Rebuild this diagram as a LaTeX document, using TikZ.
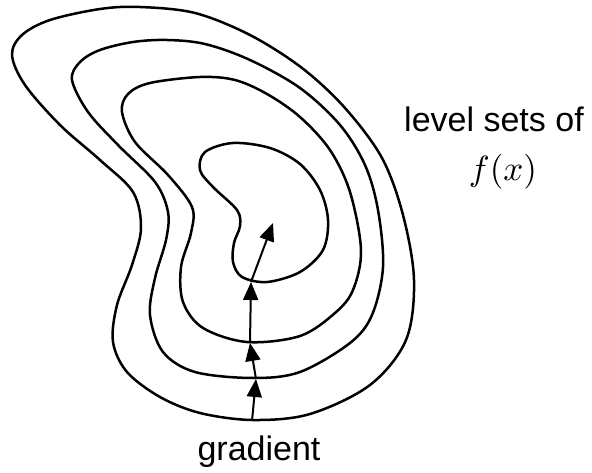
\documentclass[tikz,border=0pt]{standalone}
\usepackage{graphicx}
\usepackage{fontspec}
\newfontfamily\labelfont{Liberation Sans}
\usetikzlibrary{arrows.meta}
\tikzset{
  contour/.style={line width=2.5pt, line join=round},
  grad/.style={line width=2pt, -{Triangle[length=18pt,width=15pt]}},
  lbl/.style={font=\labelfont\fontsize{34}{40}\selectfont, inner sep=0pt},
}
\begin{document}
\begin{tikzpicture}[x=1pt,y=-1pt]
\useasboundingbox (0,0) rectangle (592,473);
% outer level set
\draw[contour] plot[smooth cycle, tension=0.55] coordinates {
 (140,7) (195,13) (250,35) (302,68) (345,108) (382,158) (403,215) (414,280)
 (406,340) (370,385) (310,414) (253,420) (200,413) (160,397) (127,372)
 (113,342) (117,305) (132,265) (141,228) (133,192) (100,160) (60,125)
 (25,85) (12,55) (22,35) (50,20) (100,9)};
% second
\draw[contour] plot[smooth cycle, tension=0.55] coordinates {
 (167,40) (205,44) (250,60) (300,88) (340,125) (365,165) (378,210) (383,267)
 (372,315) (350,343) (300,372) (253,378) (195,372) (163,352) (150,315)
 (155,278) (166,240) (168,212) (155,182) (118,145) (88,112) (72,80)
 (80,62) (100,50) (133,42)};
% third
\draw[contour] plot[smooth cycle, tension=0.55] coordinates {
 (200,77) (235,80) (267,94) (300,117) (330,150) (350,192) (361,250)
 (353,290) (335,313) (300,336) (247,342) (203,328) (183,302) (181,267)
 (191,233) (192,207) (168,175) (135,142) (122,112) (128,94) (150,83)};
% inner
\draw[contour] plot[smooth cycle, tension=0.55] coordinates {
 (233,143) (270,148) (300,164) (320,190) (328,220) (323,250) (300,272)
 (267,282) (242,277) (233,262) (234,243) (240,226) (237,210) (213,187)
 (200,170) (205,152)};
% gradient steps
\coordinate (g0) at (252,421);
\coordinate (g1) at (256,379);
\coordinate (g2) at (250,343);
\coordinate (g3) at (251,282);
\coordinate (g4) at (273,223);
\draw[grad] (g0) -- (g1);
\draw[grad] (g1) -- (g2);
\draw[grad] (g2) -- (g3);
\draw[grad] (g3) -- (g4);
% labels
\node[lbl, anchor=base] (lvl) at (494,132) {level sets of};
\node[inner sep=0pt] (fx) at (503,172) {\scalebox{3.5}{$f(x)$}};
\node[lbl, anchor=base] (gr) at (259,460) {gradient};
\end{tikzpicture}
\end{document}
